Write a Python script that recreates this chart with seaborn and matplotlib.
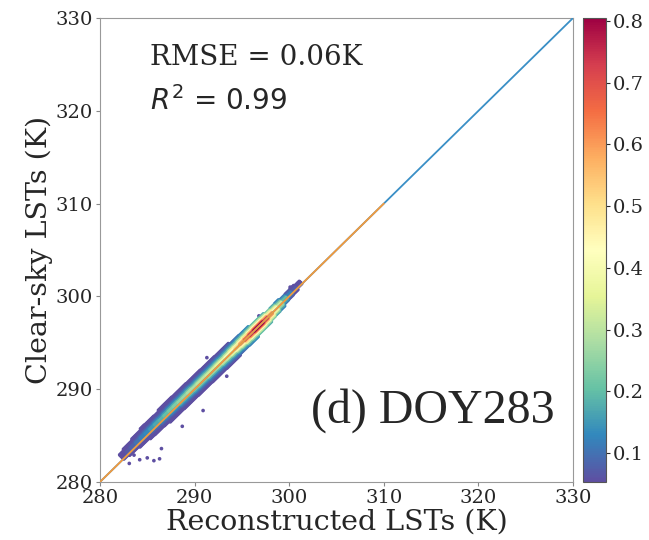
import numpy as np
import pandas as pd
import matplotlib
matplotlib.use("Agg")
import matplotlib.pyplot as plt
import seaborn as sns
from matplotlib.colors import Normalize
from matplotlib.cm import ScalarMappable

# ---- data ----
# positions along the 1:1 diagonal (reconstructed LST, K)
band_x = [282.5, 283.0, 283.5, 284.0, 284.5, 285.0, 285.5, 286.0, 286.5, 287.0,
          287.5, 288.0, 288.5, 289.0, 289.5, 290.0, 290.5, 291.0, 291.5, 292.0,
          292.5, 293.0, 293.5, 294.0, 294.5, 295.0, 295.5, 296.0, 296.5, 297.0,
          297.5, 298.0, 298.5, 299.0, 299.5, 300.0, 300.5, 301.0]
# peak normalised density along the band
band_peak = [0.05, 0.07, 0.08, 0.10, 0.12, 0.13, 0.15, 0.17, 0.18, 0.20,
             0.22, 0.23, 0.25, 0.26, 0.28, 0.28, 0.30, 0.30, 0.32, 0.33,
             0.35, 0.37, 0.40, 0.45, 0.50, 0.58, 0.66, 0.74, 0.80, 0.80,
             0.72, 0.60, 0.45, 0.32, 0.20, 0.12, 0.07, 0.05]
# half width of the band (K, in y - x)
band_hw = [0.4, 0.6, 0.7, 0.8, 0.9, 1.0, 1.0, 1.1, 1.1, 1.2,
           1.2, 1.2, 1.3, 1.3, 1.3, 1.3, 1.3, 1.3, 1.3, 1.3,
           1.3, 1.2, 1.2, 1.2, 1.1, 1.1, 1.0, 1.0, 0.9, 0.9,
           0.8, 0.7, 0.7, 0.6, 0.5, 0.4, 0.4, 0.3]
# centre offset of the band (y - x, K)
band_d0 = [0.4, 0.4, 0.4, 0.4, 0.4, 0.4, 0.35, 0.35, 0.3, 0.3,
           0.3, 0.3, 0.25, 0.25, 0.25, 0.2, 0.2, 0.2, 0.15, 0.15,
           0.15, 0.1, 0.1, 0.1, 0.05, 0.05, 0.0, 0.0, 0.0, 0.0,
           0.0, 0.0, 0.05, 0.1, 0.15, 0.2, 0.25, 0.3]
# cross-band offsets and relative density
cross_d = [-1.4, -1.2, -1.0, -0.8, -0.6, -0.4, -0.2, 0.0,
           0.2, 0.4, 0.6, 0.8, 1.0, 1.2, 1.4]
cross_w = [0.10, 0.13, 0.18, 0.25, 0.38, 0.55, 0.78, 1.00,
           0.78, 0.55, 0.38, 0.25, 0.18, 0.13, 0.10]

# isolated outlier points
out_x = [291.3, 290.9, 288.7, 286.5, 286.3, 285.7, 285.0, 283.1, 300.9, 300.1, 296.8, 293.4, 284.2, 283.6]
out_y = [293.4, 287.7, 286.0, 283.6, 282.5, 282.3, 282.6, 282.0, 301.4, 301.0, 297.9, 291.4, 282.4, 282.9]

fit_x = [280, 310]
fit_y = [280, 310]
one_x = [280, 330]
one_y = [280, 330]

ticks = [280, 290, 300, 310, 320, 330]
cbar_ticks = [0.1, 0.2, 0.3, 0.4, 0.5, 0.6, 0.7, 0.8]
vmin, vmax = 0.053, 0.805

# ---- build table (each read cell filled with a few sub-dots) ----
sub_a = [-0.1875, -0.0625, 0.0625, 0.1875]   # along-diagonal sub-positions in a cell
sub_c = [-0.05, 0.05]                        # cross sub-positions in a cell
rows = []
for xc, pk, hw, d0 in zip(band_x, band_peak, band_hw, band_d0):
    for d, w in zip(cross_d, cross_w):
        if abs(d) <= hw + 1e-9:
            val = max(pk * w, vmin)
            for a in sub_a:
                for c in sub_c:
                    dd = d + c
                    rows.append((xc + a - dd / 2, xc + a + d0 + dd / 2, val))
for x, y in zip(out_x, out_y):
    rows.append((x, y, vmin))
df = pd.DataFrame(rows, columns=["x", "y", "density"]).sort_values("density", kind="stable")

sns.set_style("ticks")
plt.rcParams["font.family"] = ["DejaVu Serif"]

fig = plt.figure(figsize=(6.49, 5.40), dpi=100)
ax = fig.add_axes([0.154, 0.1074, 0.729, 0.8593])
cax = fig.add_axes([0.898, 0.1074, 0.0354, 0.8593])

sns.scatterplot(data=df, x="x", y="y", hue="density", palette="Spectral_r",
                hue_norm=(vmin, vmax), s=7, linewidth=0, legend=False, ax=ax, zorder=2)
sns.lineplot(x=one_x, y=one_y, color="#3a8fc6", lw=1.3, ax=ax, zorder=3)
sns.lineplot(x=fit_x, y=fit_y, color="#f39a3c", lw=1.3, ax=ax, zorder=3)

ax.set_xlim(280, 330)
ax.set_ylim(280, 330)
ax.set_xticks(ticks)
ax.set_yticks(ticks)
ax.tick_params(labelsize=14, length=3, color="#888888", pad=2)
for sp in ax.spines.values():
    sp.set_color("#999999")
    sp.set_visible(True)
ax.set_xlabel("Reconstructed LSTs (K)", fontsize=20.5, labelpad=1)
ax.set_ylabel("Clear-sky LSTs (K)", fontsize=20.5, labelpad=2)

ax.text(0.106, 0.899, "RMSE = 0.06K", transform=ax.transAxes, fontsize=20, va="baseline")
ax.text(0.106, 0.802, "$R^2$ = 0.99", transform=ax.transAxes, family="DejaVu Sans",
        fontsize=20, va="baseline")
ax.text(0.962, 0.127, "(d) DOY283", transform=ax.transAxes, family="Liberation Serif",
        fontsize=34.5, ha="right", va="baseline")

sm = ScalarMappable(norm=Normalize(vmin, vmax), cmap="Spectral_r")
cb = fig.colorbar(sm, cax=cax, ticks=cbar_ticks)
cb.ax.tick_params(labelsize=14, length=3, pad=2)
cb.outline.set_edgecolor("#555555")

fig.savefig("out.png", dpi=100)
